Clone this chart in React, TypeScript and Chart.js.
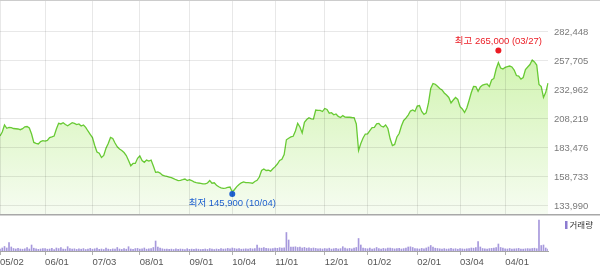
import React, { useEffect, useRef } from 'react';
import { Chart, registerables } from 'chart.js';

Chart.register(...registerables);

// ---- data ----
const START_DATE = [2023, 4, 2]; // 2023-05-02 (UTC y, m0, d)
const HOLIDAYS = [
  '2023-05-05', '2023-05-29', '2023-06-06', '2023-08-15', '2023-09-28', '2023-09-29',
  '2023-10-02', '2023-10-03', '2023-10-09', '2023-12-25', '2023-12-29', '2024-01-01',
  '2024-02-09', '2024-02-12', '2024-03-01', '2024-04-10',
];

const closes = [
  193700, 197100, 203100, 200300, 201000, 200800, 200100, 199900, 199700, 199100,
  200000, 201600, 201800, 200500, 195400, 188200, 187400, 186900, 189000, 189700,
  189400, 190000, 192400, 193000, 193700, 199700, 204500, 204000, 205000, 203500,
  202500, 203800, 205100, 204400, 203500, 204000, 202200, 203100, 201100, 198000,
  195200, 192400, 185600, 180100, 179000, 175400, 177100, 183200, 187400, 192500,
  191600, 187700, 184500, 182600, 181300, 179600, 177000, 172800, 168300, 170300,
  170300, 174700, 176700, 172800, 171300, 173200, 172400, 173200, 168100, 162700,
  163000, 162100, 160300, 159700, 159200, 158700, 158200, 157300, 156400, 155700,
  155900, 156400, 157000, 155700, 156500, 155700, 154600, 154000, 153600, 153300,
  152800, 152800, 153600, 155700, 153400, 153800, 151700, 150400, 149400, 149100,
  149300, 149800, 150200, 145900, 148100, 150500, 152300, 153800, 154600, 154000,
  153900, 153800, 153400, 154900, 155900, 158700, 164300, 165600, 164300, 164500,
  163700, 165800, 167600, 169800, 172800, 173800, 177900, 190500, 191800, 192900,
  193500, 198000, 204500, 201400, 196300, 205400, 207800, 209300, 208400, 208200,
  215900, 215500, 215600, 214600, 217200, 216300, 213200, 213600, 211800, 212500,
  210400, 209500, 211100, 209900, 209700, 209700, 209500, 209400, 204000, 181300,
  187300, 192000, 195400, 195600, 198400, 200900, 201100, 204000, 204400, 202200,
  201400, 203100, 200100, 191300, 185600, 186500, 192900, 195800, 202200, 207000,
  208900, 211600, 215000, 215900, 214700, 219300, 219700, 214600, 212100, 213500,
  221900, 234200, 238500, 237900, 236100, 234200, 233000, 230400, 228700, 226600,
  221900, 224400, 226600, 224900, 218700, 216800, 213800, 217600, 224000, 230800,
  236000, 235900, 231900, 235500, 237200, 237800, 238100, 235900, 241500, 242800,
  250900, 256400, 251700, 250900, 252200, 252900, 253400, 252600, 250000, 245300,
  244900, 242300, 243600, 250400, 252600, 254700, 258600, 256900, 254300, 237700,
  235900, 226600, 231000, 238900,
];

// volume, thousand shares
const volumes = [
  200, 300, 450, 300, 850, 400, 250, 200, 260, 200,
  180, 220, 350, 200, 600, 280, 220, 170, 200, 250,
  230, 180, 200, 260, 150, 300, 240, 350, 200, 180,
  430, 250, 190, 220, 160, 210, 180, 240, 150, 200,
  260, 180, 220, 300, 170, 200, 150, 300, 190, 160,
  210, 180, 350, 200, 160, 230, 180, 430, 200, 170,
  240, 260, 190, 220, 300, 180, 210, 250, 350, 1000,
  400, 300, 220, 180, 200, 160, 190, 150, 210, 170,
  200, 180, 150, 230, 170, 190, 160, 210, 180, 150,
  170, 200, 160, 240, 180, 150, 200, 170, 230, 190,
  210, 260, 220, 300, 250, 200, 230, 180, 200, 220,
  190, 250, 210, 230, 600, 300, 280, 350, 260, 240,
  220, 250, 300, 270, 330, 280, 320, 1850, 1100, 400,
  380, 420, 350, 400, 300, 360, 280, 320, 250, 300,
  260, 220, 240, 200, 250, 210, 280, 190, 230, 260,
  200, 240, 430, 280, 220, 260, 210, 300, 350, 1250,
  600, 300, 250, 220, 280, 200, 240, 350, 230, 190,
  260, 220, 280, 300, 250, 210, 230, 270, 200, 240,
  300, 400, 420, 350, 250, 230, 200, 260, 220, 300,
  400, 550, 400, 280, 250, 220, 200, 240, 190, 210,
  260, 200, 230, 180, 250, 210, 190, 220, 240, 300,
  280, 350, 950, 400, 250, 220, 200, 240, 260, 300,
  350, 700, 350, 280, 220, 200, 250, 180, 210, 230,
  260, 200, 190, 220, 240, 210, 250, 280, 230, 3100,
  550, 600, 300, 200,
];

const yTickValues = [133990, 158733, 183476, 208219, 232962, 257705, 282448];
const Y_MIN = 127164;
const Y_MAX = 309750;
const VOL_MAX = 3700;

const highPoint = { label: '최고', value: 265000, date: '03/27' };
const lowPoint = { label: '최저', value: 145900, date: '10/04' };
const volumeLegend = '거래량';

// ---- helpers ----
function buildDates(count: number) {
  const out: string[] = [];
  const d = new Date(Date.UTC(START_DATE[0], START_DATE[1], START_DATE[2]));
  while (out.length < count) {
    const iso = d.toISOString().slice(0, 10);
    const wd = d.getUTCDay();
    if (wd !== 0 && wd !== 6 && !HOLIDAYS.includes(iso)) out.push(iso);
    d.setUTCDate(d.getUTCDate() + 1);
  }
  return out;
}
const isoDates = buildDates(closes.length);
const labels = isoDates.map((s) => s.slice(5, 7) + '/' + s.slice(8, 10));
const monthStarts = isoDates
  .map((s, i) => (i === 0 || s.slice(5, 7) !== isoDates[i - 1].slice(5, 7) ? i : -1))
  .filter((i) => i >= 0);

const fmt = (v: number) => String(v).replace(/\B(?=(\d{3})+(?!\d))/g, ',');

const GRID = 'rgba(0,0,0,0.09)';
const NUM_FONT = '"Liberation Sans", Arial, sans-serif';

const hiLoPlugin = {
  id: 'hiLo',
  afterDatasetsDraw(chart: any) {
    const { ctx, scales } = chart;
    const xs = scales.x;
    const ys = scales.y;
    const items: [typeof highPoint, string, number][] = [
      [highPoint, '#ec1c24', -1],
      [lowPoint, '#1f62d0', 1],
    ];
    items.forEach(([p, color, dir]) => {
      const idx = labels.indexOf(p.date);
      const px = xs.getPixelForValue(idx);
      const py = ys.getPixelForValue(p.value) + 2 * dir;
      ctx.save();
      ctx.fillStyle = color;
      ctx.beginPath();
      ctx.arc(px, py, 3, 0, Math.PI * 2);
      ctx.fill();
      ctx.font = '9.5px "Liberation Sans", "Noto Sans CJK KR", sans-serif';
      ctx.textAlign = 'center';
      ctx.textBaseline = 'middle';
      ctx.fillText(`${p.label} ${fmt(p.value)} (${p.date})`, px, py + dir * 9.5);
      ctx.restore();
    });
  },
};

const topBorderPlugin = {
  id: 'topBorder',
  afterDraw(chart: any) {
    const { ctx, width } = chart;
    ctx.save();
    ctx.strokeStyle = '#cccccc';
    ctx.lineWidth = 1;
    ctx.beginPath();
    ctx.moveTo(0, 0.5);
    ctx.lineTo(width, 0.5);
    ctx.stroke();
    ctx.restore();
  },
};

const volDecorPlugin = {
  id: 'volDecor',
  afterDraw(chart: any) {
    const { ctx, width, chartArea } = chart;
    ctx.save();
    ctx.strokeStyle = '#a8a8a8';
    ctx.lineWidth = 1.5;
    ctx.beginPath();
    ctx.moveTo(0, 0.75);
    ctx.lineTo(width, 0.75);
    ctx.stroke();
    const lx = chartArea.right + 17;
    ctx.fillStyle = '#8c7bd0';
    ctx.fillRect(lx, 7, 2.5, 8);
    ctx.fillStyle = '#333333';
    ctx.font = '8.5px "Noto Sans CJK KR", sans-serif';
    ctx.textAlign = 'left';
    ctx.textBaseline = 'middle';
    ctx.fillText(volumeLegend, lx + 4.5, 11);
    ctx.restore();
  },
};

export default function App() {
  const refA = useRef<HTMLCanvasElement>(null);
  const refB = useRef<HTMLCanvasElement>(null);

  useEffect(() => {
    const priceChart = new Chart(refA.current as HTMLCanvasElement, {
      type: 'line',
      data: {
        labels,
        datasets: [
          {
            data: closes,
            borderColor: '#68ca34',
            borderWidth: 1.3,
            pointRadius: 0,
            tension: 0,
            fill: 'start',
            backgroundColor: (c: any) => {
              const { chart } = c;
              const area = chart.chartArea;
              if (!area) return 'rgba(0,0,0,0)';
              const g = chart.ctx.createLinearGradient(0, area.top, 0, area.bottom);
              g.addColorStop(0, 'rgb(196,241,154)');
              g.addColorStop(1, 'rgb(246,252,241)');
              return g;
            },
          },
        ],
      },
      options: {
        responsive: false,
        animation: false,
        devicePixelRatio: 1,
        layout: { padding: 0 },
        plugins: { legend: { display: false }, tooltip: { enabled: false } },
        scales: {
          x: {
            type: 'category',
            offset: false,
            grid: { color: GRID, drawTicks: false, z: 1, offset: false },
            border: { display: false },
            ticks: { display: false, autoSkip: false },
            afterBuildTicks: (s: any) => {
              s.ticks = monthStarts.map((i) => ({ value: i }));
            },
            afterFit: (s: any) => {
              s.height = 0;
              s.paddingLeft = 0;
              s.paddingRight = 0;
            },
          },
          y: {
            position: 'right',
            min: Y_MIN,
            max: Y_MAX,
            grid: { color: GRID, drawTicks: false, z: 1 },
            border: { display: false },
            ticks: {
              color: '#7a7a7a',
              font: { family: NUM_FONT, size: 9.5 },
              padding: 6,
              callback: (v: any) => fmt(Number(v)),
            },
            afterBuildTicks: (s: any) => {
              s.ticks = yTickValues.map((v) => ({ value: v }));
            },
            afterFit: (s: any) => {
              s.width = 52;
              s.paddingTop = 0;
              s.paddingBottom = 0;
            },
          },
        },
      },
      plugins: [hiLoPlugin, topBorderPlugin],
    } as any);

    const volChart = new Chart(refB.current as HTMLCanvasElement, {
      type: 'bar',
      data: {
        labels,
        datasets: [
          {
            data: volumes,
            backgroundColor: '#a698dc',
            borderWidth: 0,
            barThickness: 1,
          },
        ],
      },
      options: {
        responsive: false,
        animation: false,
        devicePixelRatio: 1,
        layout: { padding: { left: 0, right: 52, top: 0, bottom: 0 } },
        plugins: { legend: { display: false }, tooltip: { enabled: false } },
        scales: {
          x: {
            type: 'category',
            offset: false,
            grid: { display: true, drawOnChartArea: false, drawTicks: true, tickLength: 4, color: '#b0b0b0', offset: false },
            border: { display: true, color: '#a5a5a5', width: 1 },
            ticks: {
              autoSkip: false,
              maxRotation: 0,
              minRotation: 0,
              align: 'start',
              padding: 2,
              color: '#555555',
              font: { family: NUM_FONT, size: 9.5 },
            },
            afterBuildTicks: (s: any) => {
              s.ticks = monthStarts.map((i) => ({ value: i }));
            },
            afterFit: (s: any) => {
              s.height = 22;
              s.paddingLeft = 0;
              s.paddingRight = 0;
            },
          },
          y: { display: false, min: 0, max: VOL_MAX },
        },
      },
      plugins: [volDecorPlugin],
    } as any);

    return () => {
      priceChart.destroy();
      volChart.destroy();
    };
  }, []);

  return (
    <div style={{ position: 'fixed', left: 0, top: 0, width: 600, height: 273, background: '#ffffff' }}>
      <canvas ref={refA} width={600} height={214} style={{ position: 'absolute', left: 0, top: 0 }} />
      <canvas ref={refB} width={600} height={59} style={{ position: 'absolute', left: 0, top: 214 }} />
    </div>
  );
}
